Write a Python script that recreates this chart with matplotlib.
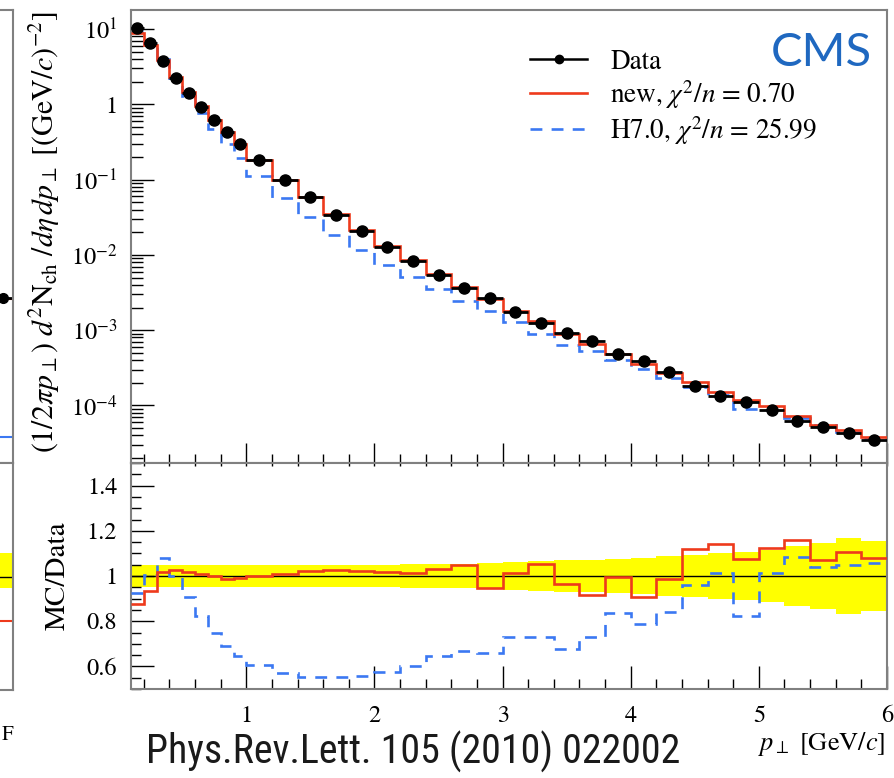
import numpy as np
import matplotlib
matplotlib.use("Agg")
import matplotlib.pyplot as plt
from matplotlib import font_manager
from matplotlib.ticker import FixedLocator, MultipleLocator, LogLocator, NullFormatter, FixedFormatter

plt.rcParams["font.family"] = ["STIXGeneral", "DejaVu Serif"]
plt.rcParams["mathtext.fontset"] = "stix"

# ---- charged-hadron pT spectrum, CMS 7 TeV ----
pt_edges = [0.1, 0.2, 0.3, 0.4, 0.5, 0.6, 0.7, 0.8, 0.9, 1.0,
            1.2, 1.4, 1.6, 1.8, 2.0, 2.2, 2.4, 2.6, 2.8, 3.0,
            3.2, 3.4, 3.6, 3.8, 4.0, 4.2, 4.4, 4.6, 4.8, 5.0,
            5.2, 5.4, 5.6, 5.8, 6.0]

data_yield = [10.2, 6.58, 3.76, 2.23, 1.43, 0.93, 0.62, 0.433, 0.297,
              0.182, 0.0988, 0.0582, 0.0336, 0.0206, 0.01285, 0.00838, 0.00541, 0.00360, 0.00270,
              0.00175, 0.00124, 0.000927, 0.000719, 0.000479,
              0.000390, 0.000276, 0.000182, 0.000134, 0.000110,
              8.64e-5, 6.28e-5, 5.22e-5, 4.27e-5, 3.48e-5]

new_ratio = [0.875, 0.934, 1.019, 1.026, 1.018, 1.010, 1.000, 0.985, 0.991,
             1.000, 1.007, 1.022, 1.025, 1.024, 1.018, 1.012, 1.033, 1.049, 0.949,
             1.015, 1.052, 0.965, 0.915, 0.997,
             0.909, 0.988, 1.121, 1.141, 1.074,
             1.124, 1.159, 1.069, 1.108, 1.080]

h7_ratio = [0.925, 1.004, 1.078, 1.000, 0.905, 0.824, 0.749, 0.690, 0.644,
            0.607, 0.571, 0.553, 0.552, 0.559, 0.577, 0.600, 0.647, 0.668, 0.658,
            0.730, 0.728, 0.677, 0.730, 0.838,
            0.787, 0.841, 0.958, 1.012, 0.824,
            1.015, 1.082, 1.038, 1.050, 1.056]

band_halfwidth = [0.048, 0.047, 0.047, 0.047, 0.047, 0.047, 0.047, 0.047, 0.047,
                  0.047, 0.047, 0.048, 0.048, 0.049, 0.050, 0.051, 0.053, 0.055, 0.059,
                  0.062, 0.066, 0.069, 0.072, 0.075,
                  0.078, 0.087, 0.094, 0.100, 0.104,
                  0.113, 0.134, 0.147, 0.167, 0.156]

legend_labels = ["Data", r"new, $\chi^2/n$ = 0.70", r"H7.0, $\chi^2/n$ = 25.99"]

x_ticks = [1, 2, 3, 4, 5, 6]
x_tick_labels = ["1", "2", "3", "4", "5", "6"]
yield_ticks = [1e-4, 1e-3, 1e-2, 1e-1, 1, 10]
yield_tick_labels = [r"$10^{-4}$", r"$10^{-3}$", r"$10^{-2}$", r"$10^{-1}$", "1", r"$10^{1}$"]
ratio_ticks = [0.6, 0.8, 1.0, 1.2, 1.4]
ratio_tick_labels = ["0.6", "0.8", "1", "1.2", "1.4"]

# last bin of the neighbouring panel
side_edges = [0.8, 1.0]
side_data = [0.00268]
side_new = [0.00262]
side_h7 = [3.8e-5]
side_band = [0.948, 1.105]
side_new_ratio = [0.805]

RED = "#ee3a1c"
BLUE = "#3b78f2"
FRAME = "#808080"
DASH = (0, (4.5, 3.5))

W, H = 894, 778
fig = plt.figure(figsize=(W / 100, H / 100), dpi=100)

def box(l, t, r, b):
    return [l / W, (H - b) / H, (r - l) / W, (b - t) / H]

ax = fig.add_axes(box(131, 10, 887, 463))
axr = fig.add_axes(box(131, 463, 887, 689), sharex=ax)

edges = np.array(pt_edges)
centers = 0.5 * (edges[1:] + edges[:-1])
halfw = 0.5 * (edges[1:] - edges[:-1])
data = np.array(data_yield)
rnew = np.array(new_ratio)
rh7 = np.array(h7_ratio)
band = np.array(band_halfwidth)

# ---- spectrum ----
ax.stairs(data * rh7, edges, baseline=None, color=BLUE, lw=1.9, ls=DASH, zorder=2)
ax.stairs(data * rnew, edges, baseline=None, color=RED, lw=1.9, zorder=3)
ax.errorbar(centers, data, xerr=halfw, fmt="o", color="black", ms=8,
            elinewidth=2.0, capsize=0, zorder=4)
ax.set_yscale("log")
ax.set_xlim(0.1, 6.0)
ax.set_ylim(1.72e-5, 17.9)

# ---- ratio ----
axr.bar(edges[:-1], 2 * band, width=np.diff(edges), bottom=1 - band, align="edge",
        color="#ffff00", linewidth=0, zorder=1)
axr.axhline(1.0, color="black", lw=1.0, zorder=2)
axr.stairs(rh7, edges, baseline=None, color=BLUE, lw=1.9, ls=DASH, zorder=3)
axr.stairs(rnew, edges, baseline=None, color=RED, lw=1.9, zorder=4)
axr.set_ylim(0.5, 1.5)

# ---- axes styling ----
for a in (ax, axr):
    for s in a.spines.values():
        s.set_color(FRAME)
        s.set_linewidth(1.5)
    a.xaxis.set_major_locator(FixedLocator(x_ticks))
    a.xaxis.set_minor_locator(MultipleLocator(0.2))
    a.tick_params(which="both", direction="in", color="black", width=1.0,
                  top=False, right=False, labelsize=17.5, pad=10)

ax.tick_params(axis="x", which="major", length=14.5)
ax.tick_params(axis="x", which="minor", length=6.5)
ax.tick_params(axis="y", which="major", length=16.5)
ax.tick_params(axis="y", which="minor", length=8.5)
ax.tick_params(axis="x", labelbottom=False)
ax.yaxis.set_major_locator(FixedLocator(yield_ticks))
ax.yaxis.set_major_formatter(FixedFormatter(yield_tick_labels))
ax.yaxis.set_minor_locator(LogLocator(base=10, subs=np.arange(2, 10)))
ax.yaxis.set_minor_formatter(NullFormatter())

axr.tick_params(axis="x", which="major", length=16.5, pad=12)
axr.tick_params(axis="x", which="minor", length=7.5)
axr.tick_params(axis="y", which="major", length=16.5)
axr.tick_params(axis="y", which="minor", length=7.5)
axr.xaxis.set_major_formatter(FixedFormatter(x_tick_labels))
axr.yaxis.set_major_locator(FixedLocator(ratio_ticks))
axr.yaxis.set_major_formatter(FixedFormatter(ratio_tick_labels))
axr.yaxis.set_minor_locator(MultipleLocator(0.05))

top = axr.secondary_xaxis("top")
top.xaxis.set_major_locator(FixedLocator(x_ticks))
top.xaxis.set_minor_locator(MultipleLocator(0.2))
top.tick_params(which="both", direction="in", length=2.5, width=1.0, labeltop=False)
top.spines["top"].set_visible(False)

ax.set_ylabel(r"$(1/2\pi p_\perp)\ d^2\mathrm{N_{ch}}\ /d\eta\,dp_\perp\ [(\mathrm{GeV}/c)^{-2}]$",
              fontsize=21.5)
ax.yaxis.set_label_coords(-0.114, 0.51)
ax.yaxis.label.set_va("center")
axr.set_ylabel("MC/Data", fontsize=21)
axr.yaxis.set_label_coords(-0.097, 0.50)
axr.yaxis.label.set_va("center")
axr.set_xlabel(r"$p_\perp$ [GeV/$c$]", fontsize=19)
axr.xaxis.set_label_coords(0.998, -0.245)
axr.xaxis.label.set_ha("right")
axr.xaxis.label.set_va("center")

handles = [
    plt.Line2D([], [], color="black", lw=1.8, marker="o", ms=6),
    plt.Line2D([], [], color=RED, lw=1.9),
    plt.Line2D([], [], color=BLUE, lw=1.9, ls=DASH),
]
ax.legend(handles, legend_labels, loc="upper left", bbox_to_anchor=(0.528, 0.913),
          frameon=False, fontsize=19.5, handlelength=2.1, handletextpad=0.85,
          labelspacing=0.12, borderpad=0, borderaxespad=0, numpoints=1)

fig.text(872 / W, (H - 66) / H, "CMS", color="#1f68c0", fontsize=34,
         family=["Lato", "DejaVu Sans"], ha="right", va="baseline")

# journal reference, in the narrowest sans available, sized to its span
installed = {f.name for f in font_manager.fontManager.ttflist}
ref_family = next((f for f in ["Roboto Condensed", "Liberation Sans Narrow",
                               "Open Sans Condensed", "DejaVu Sans"] if f in installed),
                  "DejaVu Sans")
ref_text = fig.text(146 / W, (H - 764) / H, "Phys.Rev.Lett. 105 (2010) 022002",
                    color="#1a1a1a", fontsize=32, family=ref_family,
                    fontstretch="condensed", ha="left", va="baseline")
fig.canvas.draw()
span = ref_text.get_window_extent(fig.canvas.get_renderer()).width
ref_text.set_fontsize(32 * 535.0 / span)

# ---- edge of the neighbouring panel ----
axl = fig.add_axes(box(-86, 10, 13, 463))
axlr = fig.add_axes(box(-86, 463, 13, 690))
sedges = np.array(side_edges)
axl.stairs(side_h7, sedges, baseline=None, color=BLUE, lw=1.5)
axl.stairs(side_new, sedges, baseline=None, color=RED, lw=1.5)
axl.errorbar([sedges.mean()], side_data, xerr=[np.diff(sedges)[0] / 2], fmt="o",
             color="black", ms=7, elinewidth=2, capsize=0)
axl.set_yscale("log")
axl.set_ylim(1.72e-5, 17.9)
axlr.bar(sedges[:-1], [side_band[1] - side_band[0]], width=np.diff(sedges),
         bottom=side_band[0], align="edge", color="#ffff00", linewidth=0)
axlr.axhline(1.0, color="black", lw=1.0)
axlr.stairs(side_new_ratio, sedges, baseline=None, color=RED, lw=1.5)
axlr.set_ylim(0.5, 1.5)
for a in (axl, axlr):
    a.set_xlim(0, 1)
    a.set_xticks([])
    a.set_yticks([])
    a.minorticks_off()
    for s in a.spines.values():
        s.set_color(FRAME)
        s.set_linewidth(1.5)
fig.text(2 / W, (H - 735) / H, "F", fontsize=15, ha="left", va="center")

fig.savefig("out.png", dpi=100)
